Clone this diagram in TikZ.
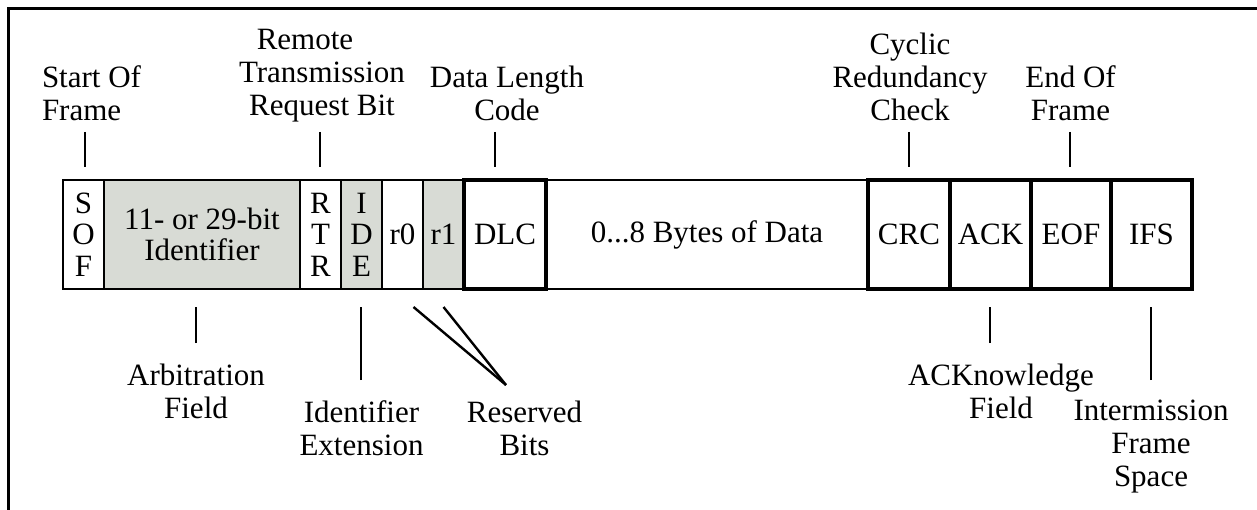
\documentclass[tikz,border=0pt]{standalone}
\usepackage{fontspec}
\setmainfont{Liberation Serif}
\usepackage{tikz}
\usepackage{xcolor}
\definecolor{fieldgray}{RGB}{216,219,213}

\begin{document}
\begin{tikzpicture}[x=1pt, y=-1pt,
        every node/.style={font=\fontsize{31}{33}\selectfont, inner sep=0pt, outer sep=0pt},
        cell/.style={draw, minimum height=109pt, align=center, font=\fontsize{31}{31.5}\selectfont},
        lbl/.style={align=center},
        tick/.style={line width=2pt}]
        \useasboundingbox (0,0) rectangle (1257,510);
        \draw[line width=2.7pt] (8.7,520) -- (8.7,8.7) -- (1270,8.7);
        \foreach \cname/\xa/\xb/\fc/\lw/\txt in {
            sof/63/104/white/2.2/{S\\O\\F},
            ident/104/300/fieldgray/2.2/{11- or 29-bit\\Identifier},
            rtr/300/341/white/2.2/{R\\T\\R},
            ide/341/382/fieldgray/2.2/{I\\D\\E},
            r0/382/423/white/2.2/r0,
            r1/423/464/fieldgray/2.2/r1,
            data/546/868/white/2.2/{0...8 Bytes of Data},
            dlc/464/546/white/3.2/DLC,
            crc/868/950/white/3.2/CRC,
            ack/950/1031/white/3.2/ACK,
            eof/1031/1111/white/3.2/EOF,
            ifs/1111/1192/white/3.2/IFS} {
          \node[cell, fill=\fc, line width=\lw pt, minimum width={(\xb-\xa)*1pt}]
            (\cname) at ({(\xa+\xb)/2},234.5) {\txt};
        };
        \node[lbl, align=left, anchor=west] (sofl) at (42,93.5) {Start Of\\Frame};
        \node[lbl] (rtrl) at (322,76) {Remote\hspace*{34pt}\\Transmission\\Request Bit};
        \node[lbl] (dlcl) at (507,93.5) {Data Length\\Code};
        \node[lbl] (crcl) at (910,77) {Cyclic\\Redundancy\\Check};
        \node[lbl] (eofl) at (1070.5,93.5) {End Of\\Frame};
        \node[lbl] (identl) at (196,391) {Arbitration\\Field};
        \node[lbl] (idel) at (361.5,428) {Identifier\\Extension};
        \node[lbl] (resl) at (524.5,428) {Reserved\\Bits};
        \node[lbl] (ackl) at (1001,391.5) {ACKnowledge\\Field};
        \node[lbl] (ifsl) at (1151,447) {Intermission\\Frame\\Space};
        \foreach \c/\x in {sof/85, rtr/320, dlc/495, crc/909, eof/1070} {
          \coordinate (\c top) at (\x,132);
          \draw[tick, shorten >=13pt] (\c top) -- (\c top |- \c.north);
        };
        \foreach \c/\x/\y in {ident/196/343, ide/361/380, ack/990/343, ifs/1151/380} {
          \coordinate (\c foot) at (\x,\y);
          \draw[tick, shorten >=18pt] (\c foot) -- (\c foot |- \c.south);
        };
        \coordinate (resfoot) at (506,385);
        \draw[tick, line width=2.4pt] ([xshift=11pt, yshift=-18pt]r0.south) -- (resfoot);
        \draw[tick, line width=2.4pt] ([yshift=-18pt]r1.south) -- (resfoot);
    \end{tikzpicture}
\end{document}
